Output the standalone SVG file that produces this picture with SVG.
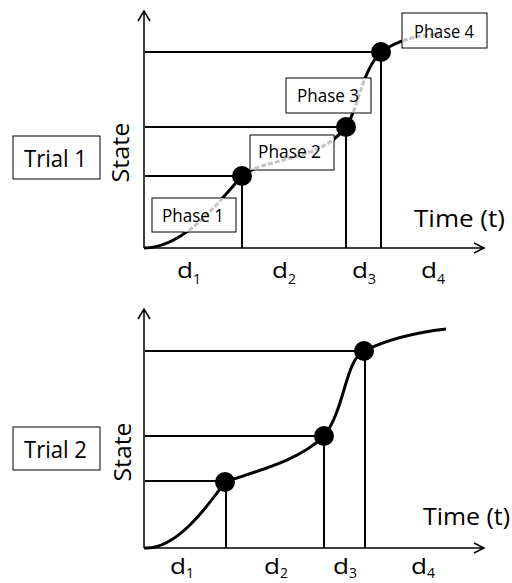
<svg xmlns="http://www.w3.org/2000/svg" width="512" height="583" viewBox="0 0 512 583">
<style>
text{font-family:"Open Sans","Liberation Sans",sans-serif;fill:#000}
.ax{stroke:#000;stroke-width:1.5;fill:none}
.ln{stroke:#000;stroke-width:2;fill:none}
.cv{stroke:#000;stroke-width:3;fill:none}
.cvg{stroke:#c4c4c4;stroke-width:3;fill:none;stroke-dasharray:5 2}
.box{fill:#fff;stroke:#000;stroke-width:1}
.lbl{font-size:23px}
.ph{font-size:18px}
.big{font-size:23px}
.st{font-size:24px;text-anchor:middle}
.d{font-size:22px}
.sub{font-size:14px}
</style>
<defs>
<clipPath id="phclip">
<rect x="152" y="198" width="84" height="34"/>
<rect x="250" y="135" width="84" height="35"/>
<rect x="286" y="78" width="85" height="35"/>
<rect x="402" y="13" width="85" height="35"/>
</clipPath>
</defs>

<g id="chart1">
<g id="connectors1">
<path class="ax" d="M144,248 V12 M138,21 L144,11 L150,21"/>
<path class="ax" d="M144,248 H484 M474,243 L484,248 L474,253"/>
<path class="ln" d="M145,52 H380 M145,127 H345 M145,176 H242"/>
<path class="ln" d="M242,176 V248 M346,127 V248 M381,52 V248"/>
<path class="cv" d="M144,248 C185,248 220,200 242,176 C262,158 320,162 346,127 C358,110 362,70 381,52 C395,42 415,35 440,34"/>
</g>
<g id="trial1"><rect class="box" x="13" y="136" width="87" height="43"/><text class="lbl" x="24" y="167" textLength="63" lengthAdjust="spacingAndGlyphs">Trial 1</text></g>
<g id="phase1"><rect class="box" x="152" y="198" width="84" height="34"/></g>
<g id="phase2"><rect class="box" x="250" y="135" width="84" height="35"/></g>
<g id="phase3"><rect class="box" x="286" y="78" width="85" height="35"/></g>
<g id="phase4"><rect class="box" x="402" y="13" width="85" height="35"/></g>
<path class="cvg" clip-path="url(#phclip)" d="M144,248 C185,248 220,200 242,176 C262,158 320,162 346,127 C358,110 362,70 381,52 C395,42 415,35 440,34"/>
<text class="ph" x="162" y="222" textLength="62" lengthAdjust="spacingAndGlyphs">Phase 1</text>
<text class="ph" x="258" y="158" textLength="63" lengthAdjust="spacingAndGlyphs">Phase 2</text>
<text class="ph" x="297" y="102" textLength="62" lengthAdjust="spacingAndGlyphs">Phase 3</text>
<text class="ph" x="414" y="38" textLength="60" lengthAdjust="spacingAndGlyphs">Phase 4</text>
<g id="dots1">
<circle cx="242" cy="176" r="10"/>
<circle cx="346" cy="127" r="10"/>
<circle cx="381" cy="52" r="10"/>
</g>
<text class="st" transform="translate(129,152.5) rotate(-90)" textLength="60" lengthAdjust="spacingAndGlyphs">State</text>
<text class="big" x="414" y="227" textLength="91" lengthAdjust="spacingAndGlyphs">Time (t)</text>
<text class="d" x="177" y="278" textLength="16" lengthAdjust="spacingAndGlyphs">d</text><text class="sub" x="193" y="284">1</text>
<text class="d" x="272" y="278" textLength="16" lengthAdjust="spacingAndGlyphs">d</text><text class="sub" x="288" y="284">2</text>
<text class="d" x="352" y="278" textLength="16" lengthAdjust="spacingAndGlyphs">d</text><text class="sub" x="368" y="284">3</text>
<text class="d" x="421" y="278" textLength="16" lengthAdjust="spacingAndGlyphs">d</text><text class="sub" x="437" y="284">4</text>
</g>

<g id="chart2">
<g id="connectors2">
<path class="ax" d="M144,548 V310 M138,319 L144,309 L150,319"/>
<path class="ax" d="M144,548 H484 M474,543 L484,548 L474,553"/>
<path class="ln" d="M145,351 H364 M145,436 H324 M145,481 H225"/>
<path class="ln" d="M226,482 V548 M324,436 V548 M365,351 V548"/>
<path class="cv" d="M144,548 C175,550 205,510 225,482 C260,470 300,460 324,436 C345,410 345,360 364,351 C390,338 420,332 446,329"/>
</g>
<g id="trial2"><rect class="box" x="13" y="427" width="87" height="43"/><text class="lbl" x="24" y="458" textLength="63" lengthAdjust="spacingAndGlyphs">Trial 2</text></g>
<g id="dots2">
<circle cx="225" cy="482" r="10"/>
<circle cx="324" cy="436" r="10"/>
<circle cx="364" cy="351" r="10"/>
</g>
<text class="st" transform="translate(131,452) rotate(-90)" textLength="59" lengthAdjust="spacingAndGlyphs">State</text>
<text class="big" x="423" y="525" textLength="87" lengthAdjust="spacingAndGlyphs">Time (t)</text>
<text class="d" x="170" y="574" textLength="16" lengthAdjust="spacingAndGlyphs">d</text><text class="sub" x="186" y="578">1</text>
<text class="d" x="264" y="574" textLength="16" lengthAdjust="spacingAndGlyphs">d</text><text class="sub" x="280" y="578">2</text>
<text class="d" x="333" y="574" textLength="16" lengthAdjust="spacingAndGlyphs">d</text><text class="sub" x="349" y="578">3</text>
<text class="d" x="411" y="574" textLength="16" lengthAdjust="spacingAndGlyphs">d</text><text class="sub" x="427" y="578">4</text>
</g>
</svg>
